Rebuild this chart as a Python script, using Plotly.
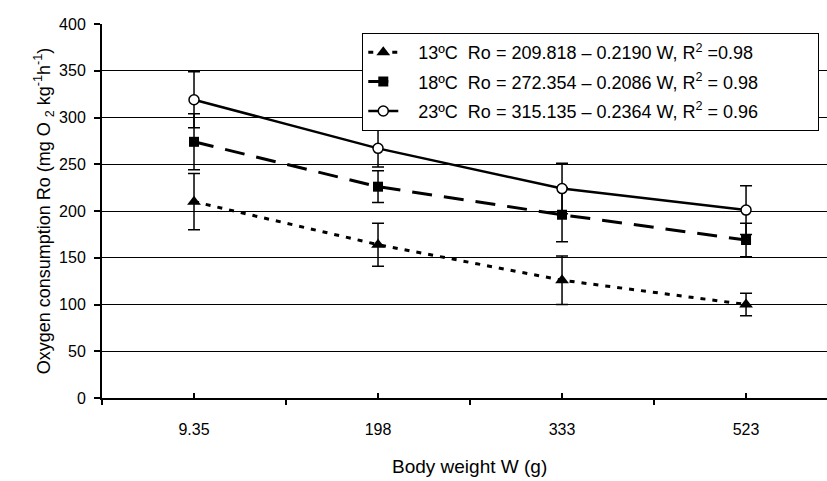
import plotly.graph_objects as go

weights = ["9.35", "198", "333", "523"]
ro13 = [210, 164, 126, 100]
err13 = [30, 23, 26, 12]
ro18 = [274, 226, 196, 169]
err18 = [30, 17, 29, 18]
ro23 = [319, 267, 224, 201]
err23 = [30, 20, 27, 26]
names = [
    "13ºC  Ro = 209.818 – 0.2190 W, R<sup>2</sup> =0.98",
    "18ºC  Ro = 272.354 – 0.2086 W, R<sup>2</sup> = 0.98",
    "23ºC  Ro = 315.135 – 0.2364 W, R<sup>2</sup> = 0.96",
]

FONT = "Liberation Sans Narrow, Arial Narrow, Liberation Sans, Arial, sans-serif"
PAD_L = "\u00a0" * 3
PAD_R = "\u00a0" * 11

fig = go.Figure()
styles = [
    (ro13, err13, "5px,7px", 3, dict(symbol="triangle-up", size=12, color="black")),
    (ro18, err18, "20px,12px", 3, dict(symbol="square", size=10, color="black")),
    (ro23, err23, "solid", 2.5, dict(symbol="circle", size=10, color="white", line=dict(color="black", width=1.5))),
]
for i, ((vals, errs, dash, w, mk), nm) in enumerate(zip(styles, names)):
    fig.add_trace(go.Scatter(
        x=weights, y=vals, name=PAD_L + nm + PAD_R, mode="lines+markers", legendgroup=f"g{i}",
        line=dict(color="black", width=w, dash=dash),
        marker=mk,
        error_y=dict(type="data", array=errs, visible=True, color="black", thickness=1.5, width=6),
    ))

# invisible trace on overlay axis for center ticks
fig.add_trace(go.Scatter(x=weights, y=[None]*4, xaxis="x2", showlegend=False, hoverinfo="skip"))

fig.update_layout(
    width=827, height=481,
    margin=dict(l=102, r=0, t=24, b=83),
    paper_bgcolor="white", plot_bgcolor="white",
    font=dict(family=FONT, size=16, color="black"),
    showlegend=True,
    legend=dict(x=0.359, y=0.976, xanchor="left", yanchor="top",
                bordercolor="black", borderwidth=1, bgcolor="white",
                font=dict(family=FONT, size=18), tracegroupgap=3),
    xaxis=dict(type="category", range=[-0.5, 3.44], showline=True, linecolor="black", linewidth=2,
               ticks="outside", ticklen=5, tickcolor="black", tickwidth=1.5, tickson="boundaries",
               showgrid=False, zeroline=False, tickfont=dict(size=16, family=FONT),
               ticklabelstandoff=16),
    xaxis2=dict(type="category", overlaying="x", matches="x", side="bottom", range=[-0.5, 3.44],
                ticks="inside", ticklen=5, tickcolor="black", tickwidth=1.5,
                showticklabels=False, showgrid=False, showline=False, zeroline=False),
    yaxis=dict(range=[0, 400], dtick=50, showline=True, linecolor="black", linewidth=2,
               ticks="outside", ticklen=6, tickcolor="black", tickwidth=1.5,
               showgrid=True, gridcolor="black", gridwidth=1.2, zeroline=False,
               tickfont=dict(size=16, family=FONT), ticklabelstandoff=5,
               title=dict(text="Oxygen consumption Ro (mg O <sub>2</sub> kg<sup>-1</sup>h<sup>-1</sup>)",
                          font=dict(size=18, family=FONT), standoff=4)),
    annotations=[dict(text="Body weight W (g)", xref="paper", yref="paper", x=0.507, y=-0.184,
                      xanchor="center", yanchor="middle", showarrow=False,
                      font=dict(size=19, family=FONT))],
)

fig.write_html("out.html", config={"displayModeBar": False},
               post_script="document.body.style.margin='0px';document.body.style.overflow='hidden';")
